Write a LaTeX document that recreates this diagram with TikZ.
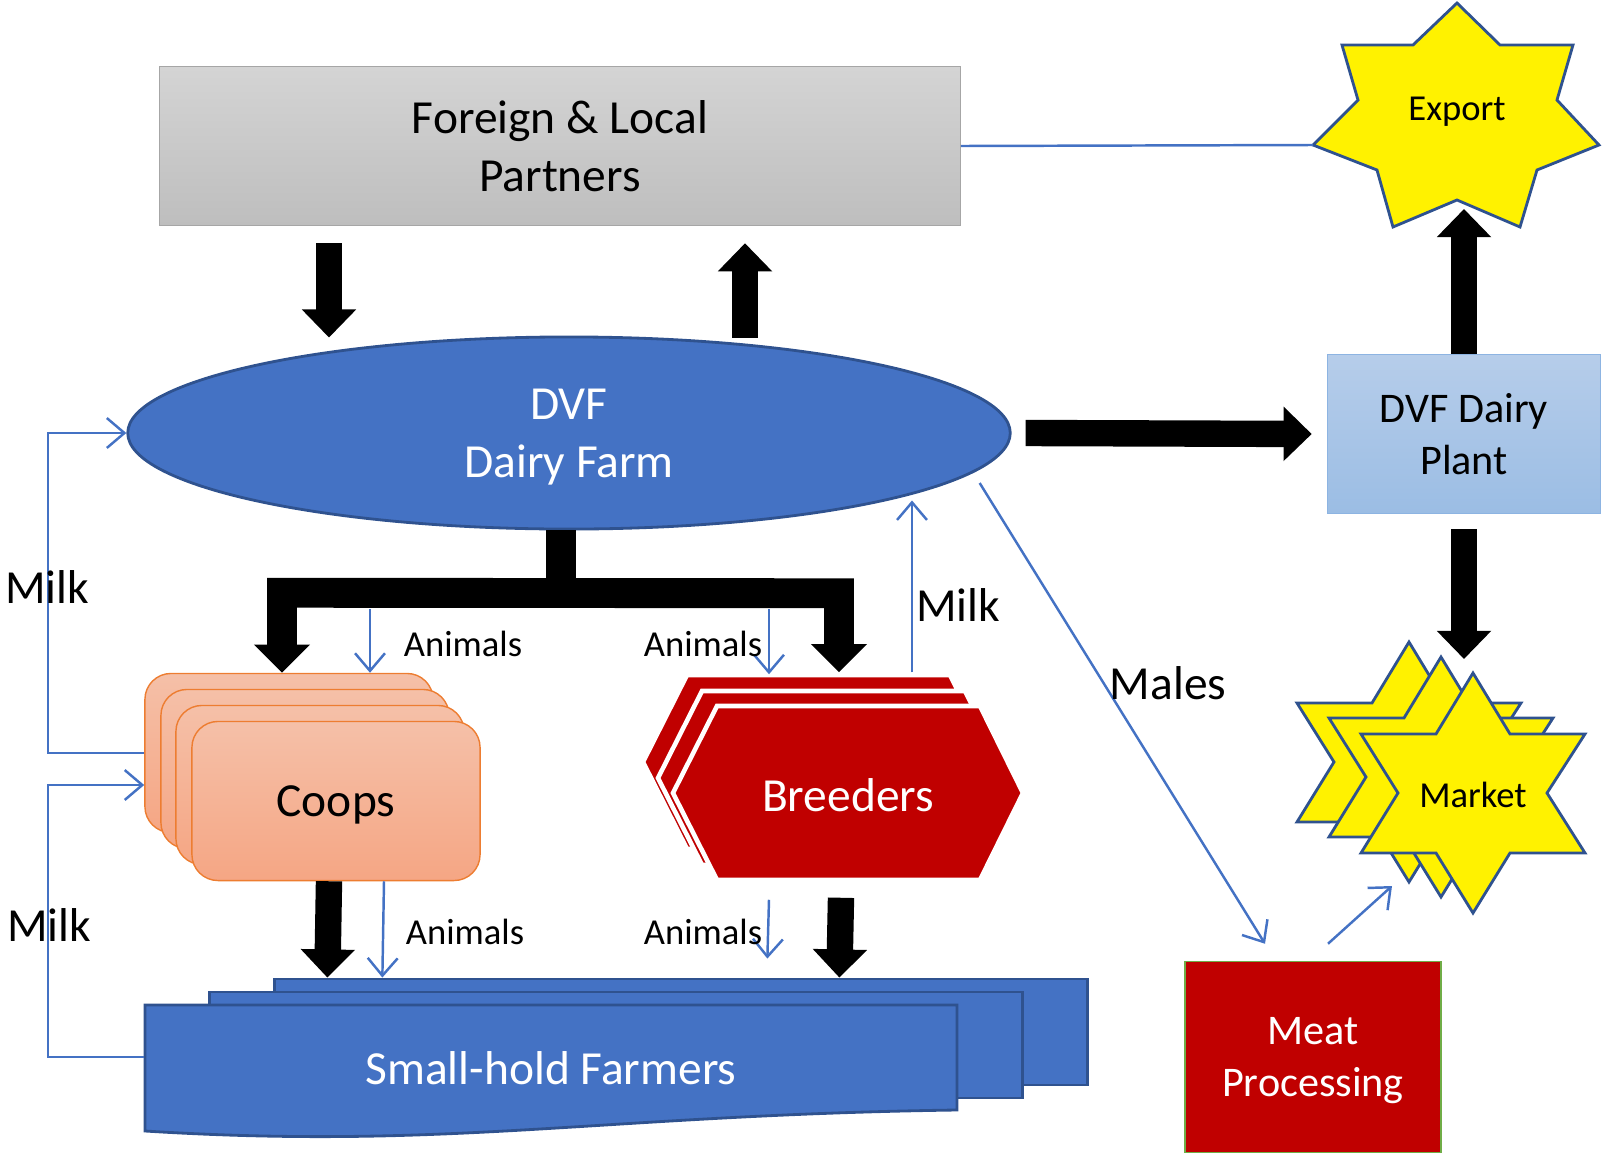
\documentclass[tikz,border=0pt]{standalone}
\usepackage{fontspec}
\setmainfont{Carlito}
\usetikzlibrary{shapes.geometric,arrows.meta,calc,positioning}

\definecolor{dvfblue}{RGB}{68,114,196}
\definecolor{dvfedge}{RGB}{47,82,143}
\definecolor{breedred}{RGB}{192,0,0}
\definecolor{coopedge}{RGB}{237,125,49}
\definecolor{cooptop}{RGB}{245,192,168}
\definecolor{coopbot}{RGB}{245,166,132}
\definecolor{planttop}{RGB}{182,205,234}
\definecolor{plantbot}{RGB}{155,189,228}
\definecolor{plantedge}{RGB}{141,180,226}
\definecolor{greytop}{RGB}{212,212,212}
\definecolor{greybot}{RGB}{190,190,190}
\definecolor{meatedge}{RGB}{112,173,71}

\newcommand{\bigtxt}{\fontsize{13.5}{16.5}\selectfont}
\newcommand{\midtxt}{\fontsize{12}{14.6}\selectfont}
\newcommand{\smalltxt}{\fontsize{10.4}{12.7}\selectfont}

\begin{document}
\begin{tikzpicture}[x=0.01cm, y=-0.01cm,
	flow/.style={color=dvfblue, line width=0.7pt, -{Straight Barb[length=5pt,width=8.5pt]}},
	bigarrow/.style={line width=7.5pt, -{Triangle[width=15pt,length=8pt]}},
	coopcard/.style={draw=coopedge, top color=cooptop, bottom color=coopbot, rounded corners=0.26cm, minimum width=2.88cm, minimum height=1.59cm},
	farmcard/.style={draw=dvfedge, fill=dvfblue, line width=0.8pt, minimum width=8.12cm, minimum height=1.06cm},
	mstar/.style={fill=yellow, draw=dvfedge, line width=0.8pt},
	lbl/.style={font=\bigtxt}]
	\useasboundingbox (0,0) rectangle (1602,1154);

	% boxes on top
	\node[draw=gray!70, top color=greytop, bottom color=greybot, minimum width=8cm, minimum height=1.59cm, align=center, font=\bigtxt] (partners) at (560,146) {Foreign \& Local\\Partners};
	\filldraw[mstar] (1457,3) -- (1500,45) -- (1573,45) -- (1557,100) -- (1599,145) -- (1537,170) -- (1520,227) -- (1457,200) -- (1393,227) -- (1377,170) -- (1313,145) -- (1358,100) -- (1342,45) -- (1413,45) -- cycle;
	\node[font=\smalltxt, text depth=0pt] (export) at (1457,109) {Export};
	\coordinate (exportL) at (1313,145);
	\coordinate (exportB) at (1464,209);

	\node[ellipse, draw=dvfedge, fill=dvfblue, text=white, line width=0.8pt, minimum width=8.82cm, minimum height=1.92cm, align=center, font=\bigtxt, text depth=0pt] (dvf) at (569,433) {DVF\\Dairy Farm};
	\node[draw=plantedge, top color=planttop, bottom color=plantbot, minimum width=2.73cm, minimum height=1.59cm, align=center, font=\midtxt] (plant) at (1464,434) {DVF Dairy\\Plant};

	% coops, breeders, farmers
	\foreach \k/\px/\py in {0/289/753, 1/305/769, 2/320/785}
		\node[coopcard] (coops\k) at (\px,\py) {};
	\node[coopcard, font=\bigtxt, text depth=0pt] (coops) at (336,801) {Coops};

	\foreach \dx/\dy in {-30/-31, -15/-15, 0/0}
		\filldraw[fill=breedred, draw=white, line width=1.3pt, shift={(\dx,\dy)}] (673,793) -- (717,706) -- (980,706) -- (1023,793) -- (980,880) -- (717,880) -- cycle;
	\node[font=\bigtxt, text=white, minimum width=3.5cm, minimum height=1.74cm] (breeders) at (848,795) {Breeders};

	\node[farmcard] (farm2) at (681,1032) {};
	\node[farmcard] (farm1) at (616,1045) {};
	\filldraw[fill=dvfblue, draw=dvfedge, line width=0.8pt] (145,1005) -- (957,1005) -- (957,1110) .. controls (600,1115) and (450,1150) .. (145,1131) -- cycle;
	\node[font=\bigtxt, text=white, minimum width=8.12cm, minimum height=1.26cm] (farm) at (551,1068) {Small-hold Farmers};

	\node[draw=meatedge, fill=breedred, text=white, minimum width=2.56cm, minimum height=1.91cm, align=center, font=\midtxt, text depth=0pt] (meat) at (1313,1057) {Meat\\Processing};

	\foreach \dx/\dy in {-64/-31, -32/-16, 0/0}
		\filldraw[mstar, shift={(\dx,\dy)}] (1473,673) -- (1510,734) -- (1585,734) -- (1547,793) -- (1585,853) -- (1510,853) -- (1473,913) -- (1436,853) -- (1361,853) -- (1398,793) -- (1361,734) -- (1436,734) -- cycle;
	\node[font=\smalltxt] (market) at (1473,795) {Market};

	% block arrows
	\draw[bigarrow] ($(partners.south)+(-231,17)$) -- ($(dvf.north)+(-240,2)$);
	\draw[bigarrow] ($(dvf.north)+(176,2)$) -- ($(partners.south)+(185,17)$);
	\draw[bigarrow] ($(dvf.east)+(14,0)$) -- ($(plant.west)+(-15,0)$);
	\draw[bigarrow] (plant.north) -- (exportB);
	\draw[bigarrow] ($(plant.south)+(0,15)$) -- ($(market.center)+(-9,-136)$);
	\draw[line width=8.5pt] ($(dvf.south)+(-8,0)$) -- ($(dvf.south)+(-8,65)$);
	\draw[line width=8.5pt, {Triangle[width=15.5pt,length=8pt]}-{Triangle[width=15.5pt,length=8pt]}] ($(coops0.north)+(-7,0)$) -- ($(coops0.north)+(-7,-80)$) -- ($(breeders.north)+(-9,-114)$) -- ($(breeders.north)+(-9,-35)$);
	\draw[bigarrow] ($(coops.south)+(-7,0)$) -- ($(farm2.north west)+(54,0)$);
	\draw[bigarrow] ($(breeders.south)+(-7,15)$) -- ($(farm2.north west)+(566,0)$);

	% thin flows
	\draw[flow] ($(coops0.north)+(81,-64)$) -- (coops0.north -| 370,0);
	\draw[flow] ($(breeders.north)+(-79,-98)$) -- ($(breeders.north)+(-79,-33)$);
	\draw[flow] ($(coops.south)+(48,0)$) -- ($(farm2.north west)+(109,0)$);
	\draw[flow] ($(breeders.south)+(-79,17)$) -- ($(farm2.north west)+(494,-19)$);
	\draw[flow] ($(breeders.north)+(64,-35)$) -- ($(dvf.south)+(343,-30)$);
	\draw[flow] (coops0.west) -- ($(coops0.west)+(-96,0)$) |- (dvf.west);
	\draw[flow] ($(farm.west)+(0,-11)$) -- ($(farm.west)+(-96,-11)$) |- ($(coops0.west)+(0,32)$);
	\draw[flow] ($(dvf.east)+(-32,50)$) -- ($(meat.north)+(-48,-17)$);
	\draw[flow] ($(meat.north)+(15,-17)$) -- ($(market.center)+(-81,91)$);
	\draw[color=dvfblue, line width=0.7pt] (partners.east) -- (exportL);

	% labels
	\node[lbl] (milk1) at (47,587) {Milk};
	\node[lbl] (milk2) at (49,925) {Milk};
	\node[lbl] (milk3) at (958,605) {Milk};
	\node[lbl] (males) at (1168,683) {Males};
	\node[font=\smalltxt] (anim1) at (463,644) {Animals};
	\node[font=\smalltxt] (anim2) at (703,644) {Animals};
	\node[font=\smalltxt] (anim3) at (465,932) {Animals};
	\node[font=\smalltxt] (anim4) at (703,932) {Animals};
\end{tikzpicture}
\end{document}
